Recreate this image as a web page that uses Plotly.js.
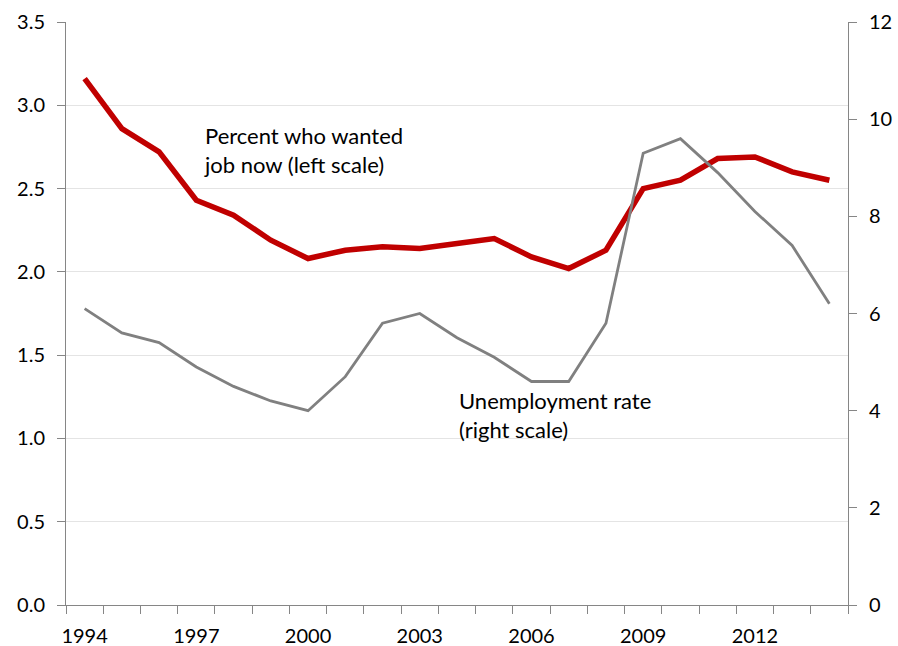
<!DOCTYPE html>
<html>
<head>
<meta charset="utf-8">
<script src="https://cdn.plot.ly/plotly-3.0.1.min.js"></script>
<style>html,body{margin:0;padding:0;background:#fff}#chart{width:898px;height:646px}</style>
</head>
<body>
<div id="chart"></div>
<script>
const years = [1994,1995,1996,1997,1998,1999,2000,2001,2002,2003,2004,2005,2006,2007,2008,2009,2010,2011,2012,2013,2014];
const wantedJob = [3.16,2.86,2.72,2.43,2.34,2.19,2.08,2.13,2.15,2.14,2.17,2.20,2.09,2.02,2.13,2.50,2.55,2.68,2.69,2.60,2.55];
const unemployment = [6.1,5.6,5.4,4.9,4.5,4.2,4.0,4.7,5.8,6.0,5.5,5.1,4.6,4.6,5.8,9.3,9.6,8.9,8.1,7.4,6.2];
const xTickYears = [1994,1997,2000,2003,2006,2009,2012];
const xTickLabels = ['1994','1997','2000','2003','2006','2009','2012'];
const leftTicks = [0,0.5,1,1.5,2,2.5,3,3.5];
const leftTickLabels = ['0.0','0.5','1.0','1.5','2.0','2.5','3.0','3.5'];
const rightTicks = [0,2,4,6,8,10,12];
const annotWanted = 'Percent who wanted<br>job now (left scale)';
const annotUnemp = 'Unemployment rate<br>(right scale)';

const font = 'Lato, "Open Sans", sans-serif';
const axisCol = '#868686';

const traces = [
  {x: years, y: unemployment, type: 'scatter', mode: 'lines', xaxis: 'x2', yaxis: 'y2',
   line: {color: '#808080', width: 2.8}, hoverinfo: 'skip'},
  {x: years, y: wantedJob, type: 'scatter', mode: 'lines', xaxis: 'x', yaxis: 'y',
   line: {color: '#c00000', width: 5.5}, hoverinfo: 'skip'}
];

const layout = {
  width: 898, height: 646,
  margin: {l: 66, r: 50, t: 22, b: 41},
  paper_bgcolor: '#fff', plot_bgcolor: '#fff',
  showlegend: false,
  font: {family: font, size: 20, color: '#000'},
  xaxis: {
    range: [1993.5, 2014.5], tickmode: 'linear', tick0: 1993.5, dtick: 1,
    ticks: 'outside', ticklen: 8, tickcolor: axisCol, tickwidth: 1,
    showticklabels: false, showgrid: false, zeroline: false,
    showline: true, linecolor: axisCol, linewidth: 1
  },
  xaxis2: {
    overlaying: 'x', side: 'bottom', range: [1993.5, 2014.5],
    tickmode: 'array', tickvals: xTickYears, ticktext: xTickLabels,
    ticks: 'outside', ticklen: 13, tickcolor: 'rgba(0,0,0,0)',
    showgrid: false, zeroline: false, showline: false,
    tickfont: {family: font, size: 20, color: '#000'}
  },
  yaxis: {
    range: [0, 3.5], tickmode: 'array', tickvals: leftTicks, ticktext: leftTickLabels,
    ticks: 'outside', ticklen: 8, tickcolor: axisCol, ticklabelstandoff: 8,
    showgrid: true, gridcolor: '#e4e4e4', gridwidth: 1, zeroline: false,
    showline: true, linecolor: axisCol, linewidth: 1,
    tickfont: {family: font, size: 20, color: '#000'}
  },
  yaxis2: {
    overlaying: 'y', side: 'right', range: [0, 12], tickmode: 'array', tickvals: rightTicks,
    ticks: 'outside', ticklen: 8, tickcolor: axisCol, ticklabelstandoff: 8,
    showgrid: false, zeroline: false,
    showline: true, linecolor: axisCol, linewidth: 1,
    tickfont: {family: font, size: 20, color: '#000'}
  },
  annotations: [
    {xref: 'x', yref: 'y', x: 1997.15, y: 2.91, text: annotWanted, showarrow: false,
     xanchor: 'left', yanchor: 'top', align: 'left',
     font: {family: font, size: 22, color: '#000'}},
    {xref: 'x', yref: 'y', x: 2004.0, y: 1.32, text: annotUnemp, showarrow: false,
     xanchor: 'left', yanchor: 'top', align: 'left',
     font: {family: font, size: 22, color: '#000'}}
  ]
};

Plotly.newPlot('chart', traces, layout, {displayModeBar: false, staticPlot: true});
</script>
</body>
</html>
